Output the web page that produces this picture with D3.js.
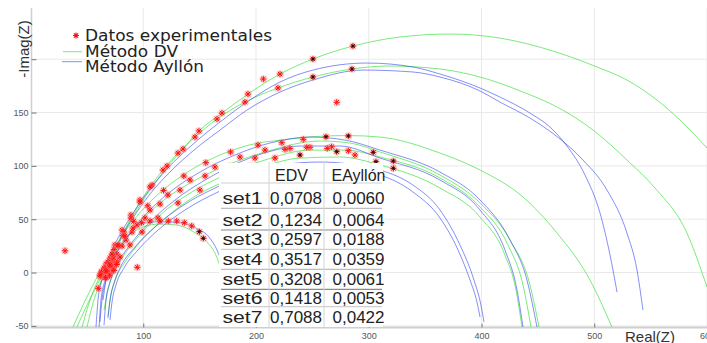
<!DOCTYPE html>
<html><head><meta charset="utf-8">
<script src="https://cdn.jsdelivr.net/npm/d3@7"></script>
<style>body{margin:0;background:#fff}svg{display:block}</style>
</head><body>
<svg id="c" width="707" height="343"></svg>
<script>
// ---------- axis ticks ----------
const xTicks = [100, 200, 300, 400, 500, 600];
const yTicks = [-50, 0, 50, 100, 150, 200];
const yTickLabels = ["-50", "0", "50", "100", "150", ""];

// ---------- table ----------
const tableRows = ["set1", "set2", "set3", "set4", "set5", "set6", "set7"];
const tableHeaders = ["EDV", "EAyllón"];
const errDV = [0.0708, 0.1234, 0.2597, 0.3517, 0.3208, 0.1418, 0.7088];
const errAyllon = [0.0060, 0.0064, 0.0188, 0.0359, 0.0061, 0.0053, 0.0422];

// ---------- legend ----------
const legendLabels = ["Datos experimentales", "Método DV", "Método Ayllón"];

// ---------- experimental data (Real, -Imag) ----------
const expOuter1 = [[286.0,212.3],[250.5,200.2],[221.3,186.1],[192.9,167.3],[169.8,149.5],[149.4,132.7],[135.3,115.8],[121.1,99.8],[107.8,82.0],[97.1,68.0],[89.1,53.9],[81.2,39.8],[74.9,25.8],[70.5,13.6],[67.0,4.2],[64.8,0.6],[63.5,-1.5],[206.5,181.4],[30.6,20.4],[62.0,-3.5],[66.0,2.0]];
const expOuter2 = [[285.1,190.8],[250.5,183.3],[219.5,173.0],[190.2,159.8],[165.4,143.9],[145.9,127.0],[130.8,112.0],[117.5,96.1],[106.0,80.2],[97.1,66.1],[89.1,51.1],[82.9,38.0],[77.6,24.8],[72.3,11.7],[68.7,2.3],[66.5,-0.8],[271.6,159.6],[64.0,-4.0],[69.5,0.5],[71.0,5.5]];
const expMid1 = [[281.9,128.0],[262.1,127.3],[241.9,124.9],[222.9,121.7],[201.8,119.5],[177.5,113.0],[155.5,103.0],[136.0,90.5],[118.0,77.0],[104.0,62.5],[91.5,48.0],[82.0,34.5],[74.0,21.5],[67.0,8.0],[63.0,1.0],[60.1,-14.8],[65.5,-3.0],[69.0,3.0],[72.5,9.5]];
const expMid2 = [[321.8,104.5],[304.0,112.7],[281.9,114.2],[267.1,117.9],[247.9,117.4],[230.1,116.4],[208.0,114.8],[185.8,108.3],[163.6,98.9],[141.5,86.7],[121.9,72.7],[106.0,58.6],[94.5,44.5],[84.7,30.5],[76.7,17.3],[70.5,6.1],[66.0,0.0],[67.5,-4.5],[72.0,1.5],[75.0,8.0]];
const expMid3 = [[321.8,97.7],[306.4,103.9],[287.8,110.2],[263.2,116.4],[245.0,117.4],[225.7,115.5],[199.1,107.3],[176.9,99.8],[154.8,90.5],[132.6,77.3],[114.9,64.2],[101.5,51.1],[90.0,38.0],[81.2,24.8],[74.1,13.6],[68.7,4.2],[65.5,-2.0],[94.7,4.9],[70.0,-1.0],[73.5,4.5],[77.0,10.5]];
const expMid4 = [[271.6,113.3],[239.0,110.2],[216.8,107.3],[194.7,99.8],[172.5,88.6],[150.3,77.3],[130.8,65.2],[113.1,51.1],[99.0,38.0],[88.2,25.8],[79.4,14.5],[72.3,5.2],[68.0,0.5],[70.0,-3.0],[74.0,2.0],[76.5,7.5],[66.5,-5.0]];
const expSmall = [[153.3,32.1],[149.7,38.3],[143.0,43.6],[136.4,46.7],[129.7,48.3],[122.2,48.3],[114.9,48.3],[106.0,48.3],[98.6,46.7],[90.9,41.7],[83.8,34.2],[77.6,25.8],[72.3,17.3],[68.7,9.8],[65.2,4.2],[63.0,0.0],[61.5,-2.5],[67.0,1.5],[70.5,7.0]];

// ---------- DV method fits ----------
const dvOuter1 = [[37.7,-51.1],[46.6,-30.5],[54.5,-13.6],[61.6,0.5],[68.7,11.7],[76.7,26.7],[84.7,41.7],[97.1,63.3],[107.8,80.2],[121.1,98.9],[135.3,115.8],[149.4,132.7],[169.8,149.5],[192.9,167.3],[221.3,186.1],[250.5,200.2],[286.0,212.3],[327.7,220.8],[372.1,223.6],[416.4,219.8],[466.1,206.7],[502.4,192.7],[529.0,180.5],[555.6,161.7],[576.0,143.0],[600.0,116.7]];
const dvOuter2 = [[41.2,-51.1],[50.1,-30.5],[58.1,-13.6],[65.2,0.5],[72.3,11.7],[77.6,24.8],[82.9,38.0],[89.1,51.1],[97.1,66.1],[106.0,80.2],[117.5,96.1],[130.8,112.0],[145.9,127.0],[165.4,143.9],[190.2,159.8],[219.5,173.0],[250.5,183.3],[285.1,190.8],[318.0,193.6],[363.2,190.8],[398.7,183.3],[436.8,169.2],[467.0,155.2],[498.9,133.6],[529.0,105.5],[553.9,79.2],[582.2,37.0],[600.0,-13.6]];
const dvMid1 = [[45.7,-51.1],[52.8,-25.8],[59.9,-7.0],[66.1,7.0],[73.2,21.1],[81.2,34.2],[90.9,48.3],[103.3,63.3],[117.5,77.3],[135.3,91.4],[154.8,103.6],[176.9,113.9],[201.8,121.4],[223.1,124.2],[241.7,126.6],[262.1,128.0],[281.6,128.4],[310.0,127.0],[363.2,112.0],[398.7,96.1],[436.8,70.8],[467.0,37.0],[496.2,-7.0],[515.7,-51.1]];
const dvMid2 = [[50.1,-51.1],[56.3,-25.8],[62.5,-8.9],[69.6,7.0],[79.4,23.9],[94.5,44.5],[114.9,65.2],[141.5,83.9],[172.5,99.8],[208.0,113.0],[256.8,123.3],[283.4,121.4],[310.0,113.0],[363.2,91.4],[398.7,65.2],[425.3,30.5],[443.0,-11.7],[451.0,-51.1]];
const dvMid3 = [[65.2,-35.2],[68.7,-16.4],[73.2,-1.4],[81.2,13.6],[94.5,32.3],[114.9,53.9],[141.5,74.5],[172.5,91.4],[208.0,105.5],[247.9,114.8],[278.9,114.8],[310.0,108.3],[363.2,88.6],[398.7,61.4],[423.5,25.8],[436.8,-11.7],[443.9,-51.1]];
const dvMid4 = [[68.7,-40.8],[71.4,-21.1],[75.8,-5.2],[83.8,9.8],[97.1,28.6],[117.5,49.2],[143.2,69.8],[175.2,86.7],[208.0,99.8],[239.0,107.3],[274.5,108.3],[310.0,100.8],[363.2,79.2],[398.7,52.0],[420.8,16.4],[430.6,-16.4],[435.9,-51.1]];
const dvSmall = [[61.6,-11.7],[65.2,2.3],[70.5,13.6],[77.6,23.9],[86.5,34.2],[99.8,42.7],[114.9,45.5],[129.7,44.5],[144.4,38.3],[156.3,28.9],[165.1,14.8],[169.6,0.8]];

// ---------- Ayllón method fits ----------
const ayOuter1 = [[58.1,-51.1],[59.9,-25.8],[63.4,-7.0],[68.7,11.7],[76.7,30.5],[88.2,51.1],[103.3,74.5],[121.9,98.0],[143.2,119.5],[168.1,141.1],[194.7,161.7],[221.3,178.6],[250.5,189.8],[298.4,196.4],[339.2,192.7],[363.2,186.1],[398.7,173.0],[416.4,164.5],[443.0,149.5],[460.7,136.4],[475.8,118.6],[491.8,91.4],[505.1,55.8],[514.0,16.4],[520.2,-18.3]];
const ayOuter2 = [[60.8,-51.1],[62.5,-25.8],[66.1,-7.0],[71.4,11.7],[79.4,30.5],[90.9,51.1],[106.0,73.6],[123.7,94.2],[145.0,114.8],[168.1,133.6],[192.0,152.3],[221.3,169.2],[250.5,180.5],[294.9,189.8],[339.2,188.0],[363.2,183.3],[398.7,170.2],[416.4,159.8],[443.0,144.8],[465.2,128.9],[490.0,105.5],[511.3,77.3],[529.0,37.0],[537.9,2.3],[543.2,-35.2]];
const ayMid1 = [[61.6,-46.4],[63.4,-25.8],[67.0,-7.0],[73.2,11.7],[83.8,30.5],[101.5,53.9],[123.7,75.5],[150.3,94.2],[181.4,110.2],[212.4,121.4],[247.9,127.0],[278.9,124.2],[310.0,114.8],[363.2,94.2],[398.7,68.0],[425.3,30.5],[440.3,-7.0],[449.2,-51.1]];
const ayMid2 = [[65.2,-49.2],[67.0,-25.8],[70.5,-8.9],[76.7,7.0],[88.2,25.8],[106.0,47.3],[128.2,68.0],[154.8,86.7],[185.8,103.6],[216.8,114.8],[239.0,118.6],[274.5,118.6],[310.0,107.3],[363.2,86.7],[398.7,58.6],[420.8,21.1],[431.5,-16.4],[436.8,-51.1]];
const ayMid3 = [[68.7,-42.7],[70.5,-25.8],[74.1,-9.8],[80.3,6.1],[92.7,23.9],[110.4,42.7],[134.4,62.3],[163.6,79.2],[194.7,93.3],[221.3,100.8],[256.8,103.6],[283.4,101.7],[310.0,96.1],[339.2,82.0],[363.2,58.6],[380.9,25.8],[393.3,-7.0],[399.5,-30.5],[402.2,-46.4]];
const ayMid4 = [[70.5,-44.5],[72.3,-27.7],[75.8,-11.7],[82.9,4.2],[95.3,21.1],[113.1,39.8],[137.0,58.6],[166.3,75.5],[197.3,88.6],[225.7,96.1],[256.8,98.0],[283.4,96.1],[310.0,91.4],[339.2,75.5],[363.2,51.1],[379.2,21.1],[389.8,-7.0],[396.0,-27.7],[398.7,-41.7]];
const aySmall = [[64.3,-25.8],[67.0,-7.0],[72.3,11.7],[79.4,23.0],[88.2,36.1],[97.1,45.5],[114.9,47.6],[132.6,46.7],[147.4,41.4],[159.2,32.1],[166.6,18.0],[169.6,8.6],[170.3,2.3]];

const expSets = [expOuter1, expOuter2, expMid1, expMid2, expMid3, expMid4, expSmall];
const dvFits = [dvOuter1, dvOuter2, dvMid1, dvMid2, dvMid3, dvMid4, dvSmall];
const ayFits = [ayOuter1, ayOuter2, ayMid1, ayMid2, ayMid3, ayMid4, aySmall];

// ---------- drawing ----------
const svg = d3.select("#c");
const x = d3.scaleLinear().domain([0, 600]).range([30.5, 707]);
const y = d3.scaleLinear().domain([-52, 248]).range([328, 8]);
const GREEN = "#22dd22", BLUE = "#2233ee", RED = "#ff1010";
const FONT = "'Liberation Sans', Arial, sans-serif";

svg.append("defs").append("clipPath").attr("id", "plot")
  .append("rect").attr("x", 31).attr("y", 8).attr("width", 676).attr("height", 319.5);

// grid
const grid = svg.append("g");
grid.selectAll(".gx").data(xTicks).join("line")
  .attr("x1", d => x(d)).attr("x2", d => x(d)).attr("y1", 8).attr("y2", 327)
  .attr("stroke", "#e9e9e9").attr("stroke-width", 1);
grid.selectAll(".gy").data(yTicks).join("line")
  .attr("x1", 31).attr("x2", 707).attr("y1", d => y(d)).attr("y2", d => y(d))
  .attr("stroke", "#e9e9e9").attr("stroke-width", 1);

// axis lines
svg.append("line").attr("x1", 31.5).attr("x2", 31.5).attr("y1", 8).attr("y2", 328)
  .attr("stroke", "#cfcfcf").attr("stroke-width", 1.5);
svg.append("line").attr("x1", 31).attr("x2", 707).attr("y1", 327.5).attr("y2", 327.5)
  .attr("stroke", "#cfcfcf").attr("stroke-width", 2);

const gx = svg.append("g").attr("transform", "translate(0,327.5)")
  .call(d3.axisBottom(x).tickValues(xTicks).tickSize(-4).tickPadding(5).tickFormat(d => String(d)));
gx.select(".domain").remove();
gx.selectAll("line").attr("stroke", "#777");
gx.selectAll("text").attr("font-family", FONT).attr("font-size", 9).attr("fill", "#555");

const gy = svg.append("g").attr("transform", "translate(31.5,0)")
  .call(d3.axisLeft(y).tickValues(yTicks).tickSize(-5).tickPadding(3).tickFormat((d, i) => yTickLabels[i]));
gy.select(".domain").remove();
gy.selectAll("line").attr("stroke", "#777");
gy.selectAll("text").attr("font-family", FONT).attr("font-size", 9).attr("fill", "#555");

// curves
const line = d3.line().x(d => x(d[0])).y(d => y(d[1])).curve(d3.curveMonotoneX);
const plot = svg.append("g").attr("clip-path", "url(#plot)");
plot.selectAll(".dv").data(dvFits).join("path")
  .attr("d", line).attr("fill", "none").attr("stroke", GREEN)
  .attr("stroke-opacity", 0.6).attr("stroke-width", 1);
plot.selectAll(".ay").data(ayFits).join("path")
  .attr("d", line).attr("fill", "none").attr("stroke", BLUE)
  .attr("stroke-opacity", 0.55).attr("stroke-width", 1);

// asterisk marker
function star(g, cx, cy, r, color, w) {
  const k = r * 0.7071;
  g.append("path")
    .attr("d", `M${cx - r},${cy}H${cx + r}M${cx},${cy - r}V${cy + r}M${cx - k},${cy - k}L${cx + k},${cy + k}M${cx - k},${cy + k}L${cx + k},${cy - k}`)
    .attr("stroke", color).attr("stroke-width", w).attr("fill", "none");
}
const pts = plot.append("g");
expSets.forEach(set => {
  set.forEach((p, i) => {
    const cx = x(p[0]), cy = y(p[1]);
    pts.append("circle").attr("cx", cx).attr("cy", cy).attr("r", 4)
      .attr("fill", "#ff8a8a").attr("opacity", 0.3);
    star(pts, cx, cy, 3.1, RED, 1.0);
    if (i < 2) star(pts, cx, cy, 2.0, "#111", 0.8);
  });
});

// table (opaque over the plot)
const tbl = svg.append("g");
tbl.append("rect").attr("x", 219).attr("y", 163).attr("width", 164).attr("height", 164).attr("fill", "#fff");
const rowY = [204, 225.8, 245, 265, 285, 304, 322.5];
const ruleY = [183, 208.3, 230, 249.3, 269.3, 289.3, 306.7];
const ruleC = ["#cfcfcf", "#bdbdbd", "#8a8a8a", "#cfcfcf", "#bdbdbd", "#8a8a8a", "#cfcfcf"];
tbl.selectAll(".rule").data(ruleY).join("line")
  .attr("x1", 221).attr("x2", 382).attr("y1", d => d).attr("y2", d => d)
  .attr("stroke", (d, i) => ruleC[i]).attr("stroke-width", 1.2);
[269, 324].forEach(vx => tbl.append("line").attr("x1", vx).attr("x2", vx)
  .attr("y1", 162).attr("y2", 327).attr("stroke", "#d4d4d4").attr("stroke-width", 1));
const tf = { "font-family": FONT, "font-size": 16, "fill": "#222" };
function txt(g, s, tx, ty, len) {
  const t = g.append("text").attr("x", tx).attr("y", ty).text(s);
  Object.entries(tf).forEach(([k, v]) => t.attr(k, v));
  if (len) t.attr("textLength", len).attr("lengthAdjust", "spacingAndGlyphs");
  return t;
}
const fmt = v => d3.format(".4f")(v).replace(".", ",");
txt(tbl, tableHeaders[0], 275, 180.8);
txt(tbl, tableHeaders[1], 331.5, 180.8);
tableRows.forEach((r, i) => {
  txt(tbl, r, 222.5, rowY[i], 40);
  txt(tbl, fmt(errDV[i]), 270, rowY[i], 52);
  txt(tbl, fmt(errAyllon[i]), 332.5, rowY[i], 52);
});

// legend
const lg = svg.append("g");
star(lg, 76, 35.5, 3.0, RED, 1.1);
lg.append("line").attr("x1", 63).attr("x2", 82).attr("y1", 51.7).attr("y2", 51.7)
  .attr("stroke", GREEN).attr("stroke-opacity", 0.6).attr("stroke-width", 1);
lg.append("line").attr("x1", 62).attr("x2", 82).attr("y1", 61.7).attr("y2", 61.7)
  .attr("stroke", BLUE).attr("stroke-opacity", 0.55).attr("stroke-width", 1);
const legY = [41, 56.5, 71.5];
const legW = [187, 93, 119];
legendLabels.forEach((s, i) => {
  lg.append("text").attr("x", 85).attr("y", legY[i]).text(s)
    .attr("font-family", "'DejaVu Sans', Verdana, sans-serif").attr("font-size", 15)
    .attr("fill", "#222").attr("textLength", legW[i]).attr("lengthAdjust", "spacingAndGlyphs");
});

// axis titles
svg.append("text").attr("transform", "translate(29,49) rotate(-90)").attr("text-anchor", "middle")
  .attr("font-family", FONT).attr("font-size", 15).attr("fill", "#333").text("-Imag(Z)");
svg.append("text").attr("x", 625).attr("y", 341.5)
  .attr("font-family", FONT).attr("font-size", 15).attr("fill", "#333").text("Real(Z)");
</script>
</body></html>
